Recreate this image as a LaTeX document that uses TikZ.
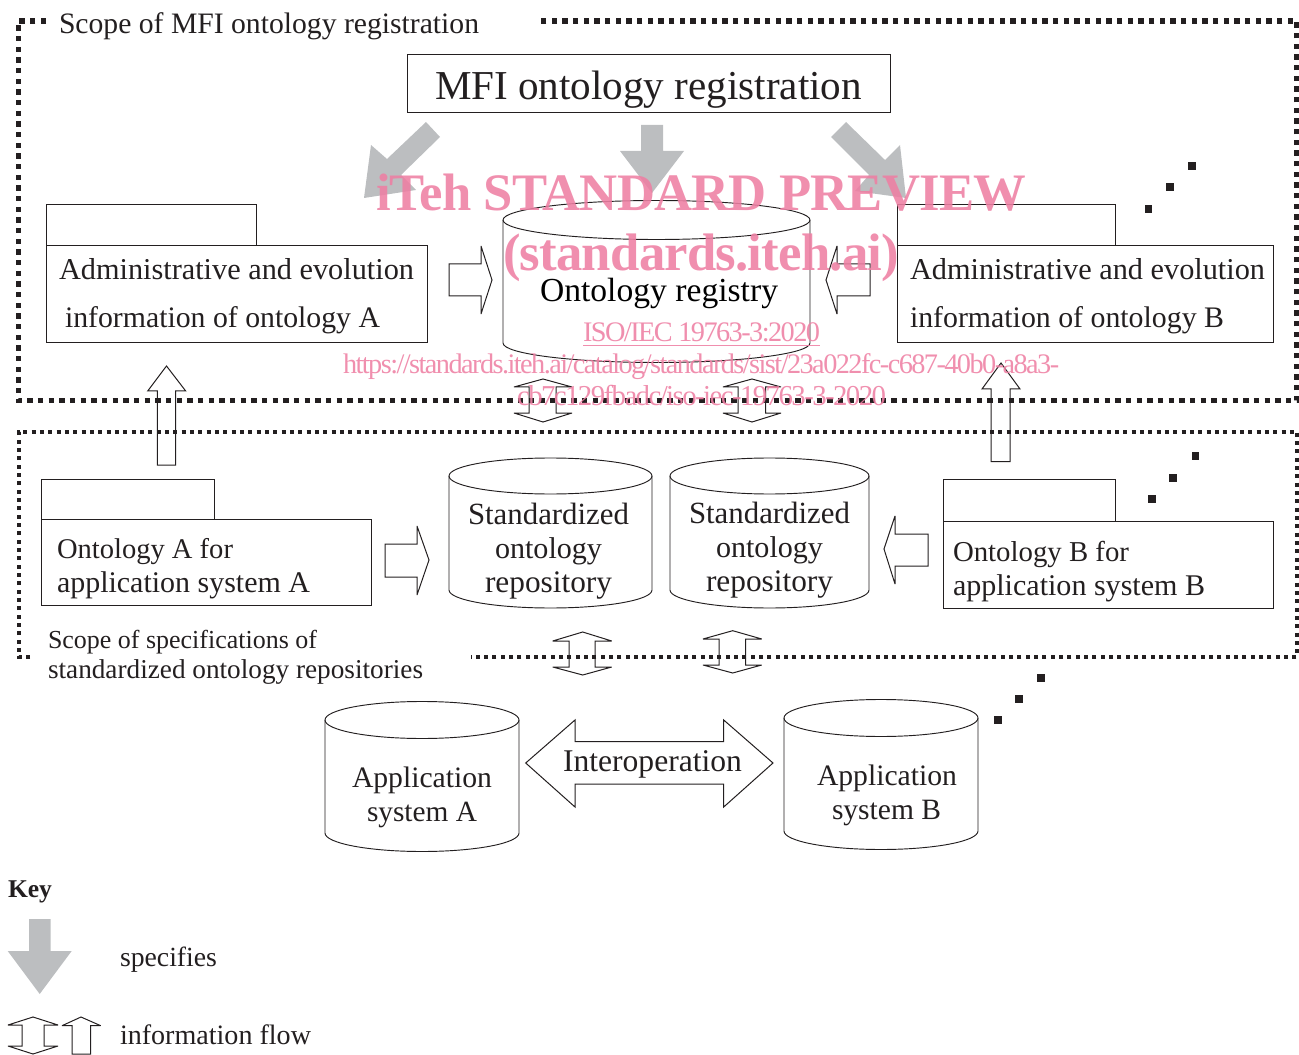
\documentclass[tikz,border=0pt]{standalone}
\usepackage{graphicx}
\usepackage{fontspec}
\setmainfont{Liberation Serif}
\newfontfamily\wmtight[LetterSpace=-5.5]{Liberation Serif}
\newfontfamily\wmbold[LetterSpace=-1.5]{Liberation Serif Bold}
\definecolor{ink}{HTML}{231F20}
\definecolor{grayarrow}{HTML}{BCBEC0}
\definecolor{wm}{HTML}{EE7FA3}
\newlength{\pxu}
\setlength{\pxu}{0.75pt}
\newcommand{\tw}[2]{\resizebox{#1\pxu}{!}{#2}}
\tikzset{
  x=0.75pt,y=-0.75pt,
  outline/.style={draw=ink,line width=0.7pt,line join=miter},
  thinarrow/.style={draw=ink,line width=0.75pt,line join=miter,miter limit=3},
  grayfill/.style={fill=grayarrow,draw=none},
  lab/.style={anchor=base west,inner sep=0pt,outer sep=0pt,text=ink},
  wmlab/.style={anchor=base west,inner sep=0pt,outer sep=0pt,text=wm,text opacity=0.88},
  dotbig/.style={draw=ink,line width=4pt,dash pattern=on 4pt off 4pt},
  dotsmall/.style={draw=ink,line width=3pt,dash pattern=on 3pt off 3.25pt},
  sq/.style={fill=ink,draw=none,minimum size=5.4pt,inner sep=0pt,outer sep=0pt},
}
\newcommand{\cyl}[5]{% xl xr ycenter ybottomside ry
  \pgfmathsetmacro{\rxx}{(#2-#1)/2}
  \draw[outline,fill=white] (#1,#3) -- (#1,#4) arc[start angle=180,end angle=360,x radius=\rxx,y radius=-#5] -- (#2,#3) arc[start angle=0,end angle=180,x radius=\rxx,y radius=-#5] -- cycle;
  \draw[outline] (#1,#3) arc[start angle=180,end angle=360,x radius=\rxx,y radius=-#5];
}
\begin{document}
\begin{tikzpicture}
\useasboundingbox (0,0) rectangle (1299,1055);
% gray specifies arrows
\fill[grayfill] (426,122) -- (440,137) -- (401,175) -- (416,190) -- (364,198) -- (371,145) -- (387,159) -- cycle;
\fill[grayfill] (641,125) -- (663,125) -- (663,151) -- (684,151) -- (652,193) -- (620,151) -- (641,151) -- cycle;
\fill[grayfill] (846,122) -- (831,137) -- (869,175) -- (855,191) -- (906,198) -- (900,145) -- (885,160) -- cycle;
% boxes
\node[outline,anchor=north west,inner sep=0pt,outer sep=0pt] (mfi) at (407,54) {\rule{0pt}{43.5pt}\rule{362.25pt}{0pt}};
\draw[outline] (46,245) rectangle (427,342);
\draw[outline] (46,204) rectangle (256,245);
\draw[outline] (897,245) rectangle (1273,342);
\draw[outline] (897,204) rectangle (1115.5,245);
\draw[outline] (41,519) rectangle (371,605);
\draw[outline] (41,479) rectangle (214,519);
\draw[outline] (943,521.5) rectangle (1273,608);
\draw[outline] (943,479) rectangle (1115.5,521.5);
% cylinders
\cyl{503}{810}{220}{343}{19.5}
\cyl{449}{652}{476}{590}{18}
\cyl{670}{869}{476}{590}{18}
\cyl{325}{519}{720}{833}{18.5}
\cyl{784}{978}{718}{831}{18.5}
% block arrows, horizontal
\draw[thinarrow] (449,264) -- (481,264) -- (481,246) -- (492,280) -- (481,314) -- (481,296) -- (449,296) -- cycle;
\draw[thinarrow] (870,264) -- (837,264) -- (837,246) -- (826,280) -- (837,314) -- (837,296) -- (870,296) -- cycle;
\draw[thinarrow] (385,544) -- (417,544) -- (417,526) -- (429,560) -- (417,595) -- (417,577) -- (385,577) -- cycle;
\draw[thinarrow] (928,534) -- (895,534) -- (895,516) -- (884,549) -- (895,584) -- (895,566) -- (928,566) -- cycle;
\draw[thinarrow] (157.3,465) -- (157.3,391) -- (147.7,391) -- (166.5,366) -- (185.7,391) -- (175.7,391) -- (175.7,465) -- cycle;
\draw[thinarrow] (991,461.5) -- (991,389) -- (982,389) -- (1001,363) -- (1020,389) -- (1010,389) -- (1010,461.5) -- cycle;
% double arrows
\draw[thinarrow] (543,379) -- (572,387) -- (556,387) -- (556,413) -- (572,413) -- (543,422) -- (514,413) -- (529,413) -- (529,387) -- (514,387) -- cycle;
\draw[thinarrow] (752,379) -- (781,387) -- (765.5,387) -- (765.5,413) -- (781,413) -- (752,422) -- (723,413) -- (738,413) -- (738,387) -- (723,387) -- cycle;
\draw[thinarrow] (582.7,632) -- (611.7,641) -- (595,641) -- (595,667) -- (611.7,667) -- (582.7,675) -- (552.7,667) -- (569,667) -- (569,641) -- (552.7,641) -- cycle;
\draw[thinarrow] (732.7,630.7) -- (761.7,639) -- (745.7,639) -- (745.7,665) -- (761.7,665) -- (732.7,673) -- (703,665) -- (719,665) -- (719,639) -- (703,639) -- cycle;
% interoperation
\draw[thinarrow] (525.7,763) -- (575,720) -- (575,741.7) -- (723.7,741.7) -- (723.7,720) -- (773,763) -- (723.7,807) -- (723.7,784) -- (575,784) -- (575,807) -- cycle;
% dotted scopes
\draw[dotbig] (46,21) -- (18.5,21) -- (18.5,400.7) -- (1297,400.7) -- (1297,21) -- (541,21);
\draw[dotsmall] (30,657) -- (18.5,657) -- (18.5,431.5) -- (1297,431.5) -- (1297,657) -- (471,657);
% three dots
\node[sq] (d1) at (1148.5,209) {}; \node[sq] (d2) at (1170,187) {}; \node[sq] (d3) at (1192,166) {};
\node[sq] (d4) at (1152,499) {}; \node[sq] (d5) at (1173,478) {}; \node[sq] (d6) at (1195.5,456) {};
\node[sq] (d7) at (998,720) {}; \node[sq] (d8) at (1019,699) {}; \node[sq] (d9) at (1041,678) {};
% texts
\node[lab] (t1) at (59,33.5) {\tw{420}{Scope of MFI ontology registration}};
\node[lab] (t2) at (435,100) {\tw{427}{MFI ontology registration}};
\node[lab] (t3) at (59,280) {\tw{355}{Administrative and evolution}};
\node[lab] (t4) at (65,328) {\tw{315}{information of ontology A}};
\node[lab] (t5) at (910,280) {\tw{355}{Administrative and evolution}};
\node[lab] (t6) at (910,328) {\tw{314}{information of ontology B}};
\node[lab,text=black] (t7) at (540,302) {\tw{238}{Ontology registry}};
\node[lab] (t8) at (468,524.5) {\tw{161}{Standardized}};
\node[lab] (t9) at (495,558.5) {\tw{107}{ontology}};
\node[lab] (t10) at (485,592.5) {\tw{127}{repository}};
\node[lab] (t11) at (689,523) {\tw{161}{Standardized}};
\node[lab] (t12) at (716,557) {\tw{107}{ontology}};
\node[lab] (t13) at (706,591) {\tw{127}{repository}};
\node[lab] (t14) at (57,558) {\tw{176}{Ontology A for}};
\node[lab] (t15) at (57,592.5) {\tw{253}{application system A}};
\node[lab] (t16) at (953,561) {\tw{176}{Ontology B for}};
\node[lab] (t17) at (953,595.5) {\tw{252}{application system B}};
\node[lab] (t18) at (48,648) {\tw{269}{Scope of specifications of}};
\node[lab] (t19) at (48,678) {\tw{375}{standardized ontology repositories}};
\node[lab] (t20) at (352,787) {\tw{140}{Application}};
\node[lab] (t21) at (367,821) {\tw{110}{system A}};
\node[lab] (t22) at (817,785) {\tw{140}{Application}};
\node[lab] (t23) at (832,819) {\tw{109}{system B}};
\node[lab] (t24) at (563,771) {\tw{179}{Interoperation}};
\node[lab] (t25) at (8,897) {\tw{44}{\bfseries Key}};
\node[lab] (t26) at (120,966.5) {\tw{97}{specifies}};
\node[lab] (t27) at (120,1044.5) {\tw{191}{information flow}};
% key
\fill[grayfill] (29,919) -- (50.7,919) -- (50.7,951) -- (71.7,951) -- (39.7,994) -- (7.7,951) -- (29,951) -- cycle;
\draw[thinarrow] (33,1017) -- (58,1025) -- (44,1025) -- (44,1046) -- (58,1046) -- (33,1054) -- (8,1046) -- (22,1046) -- (22,1025) -- (8,1025) -- cycle;
\draw[thinarrow] (81,1017) -- (100.7,1025.7) -- (90.7,1025.7) -- (90.7,1054) -- (72,1054) -- (72,1025.7) -- (62,1025.7) -- cycle;
% watermark
\node[wmlab] (w1) at (376,211) {\tw{650}{\wmbold iTeh STANDARD PREVIEW}};
\node[wmlab] (w2) at (503,271) {\tw{396}{\wmbold (standards.iteh.ai)}};
\node[wmlab] (w3) at (583,341.5) {\tw{237}{\underline{\wmtight ISO/IEC 19763-3:2020}}};
\node[wmlab] (w4) at (343,373.5) {\tw{716}{\wmtight https://standards.iteh.ai/catalog/standards/sist/23a022fc-c687-40b0-a8a3-}};
\node[wmlab] (w5) at (517,405.5) {\tw{369}{\wmtight cb7c129fbadc/iso-iec-19763-3-2020}};
\end{tikzpicture}
\end{document}
